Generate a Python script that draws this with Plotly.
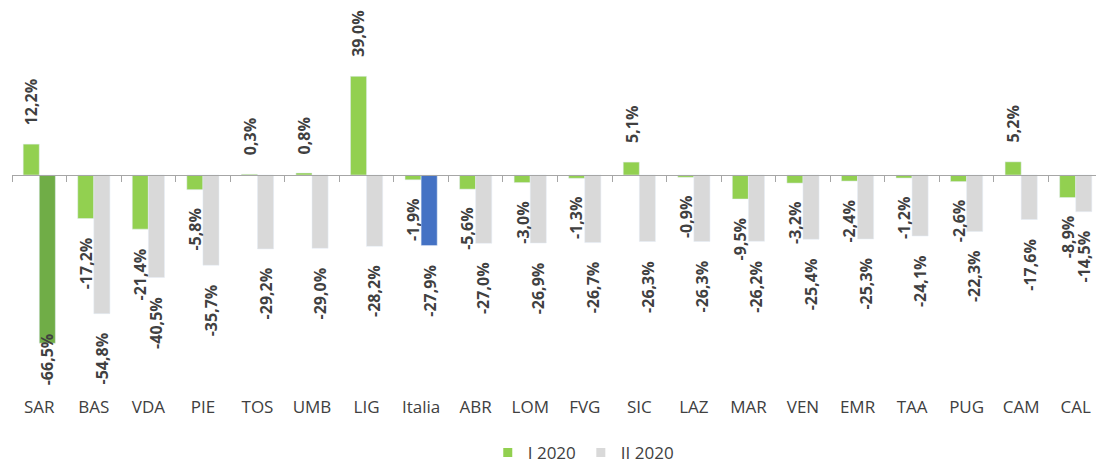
import plotly.graph_objects as go

# ---- data ----
categories = ["SAR", "BAS", "VDA", "PIE", "TOS", "UMB", "LIG", "Italia", "ABR", "LOM",
              "FVG", "SIC", "LAZ", "MAR", "VEN", "EMR", "TAA", "PUG", "CAM", "CAL"]
series1_name = "I 2020"
series2_name = "II 2020"
series1 = [12.2, -17.2, -21.4, -5.8, 0.3, 0.8, 39.0, -1.9, -5.6, -3.0,
           -1.3, 5.1, -0.9, -9.5, -3.2, -2.4, -1.2, -2.6, 5.2, -8.9]
series2 = [-66.5, -54.8, -40.5, -35.7, -29.2, -29.0, -28.2, -27.9, -27.0, -26.9,
           -26.7, -26.3, -26.3, -26.2, -25.4, -25.3, -24.1, -22.3, -17.6, -14.5]

# ---- styles ----
GREEN = "#92D050"
GRAY = "#D9D9D9"
DARK_GREEN = "#70AD47"
BLUE = "#4472C4"
TEXT = "#404040"
AXIS = "#A6A6A6"
FONT = "Open Sans"

W, H = 1096, 463
M_L, M_R, M_T, M_B = 12, 0, 0, 71
PPU = 2.53                      # pixels per percentage point
ZERO_PX = 175                   # pixel row of the zero line
plot_h = H - M_T - M_B
y_max = (ZERO_PX - M_T) / PPU
y_min = -(plot_h - (ZERO_PX - M_T)) / PPU
x_range = [-0.5, len(categories) - 0.5 - 7 / 54.6]

bargap = 0.41
bar_w = (1 - bargap) / 2
offsets = [-bar_w / 2, bar_w / 2]

colors2 = []
for c in categories:
    if c == "SAR":
        colors2.append(DARK_GREEN)
    elif c == "Italia":
        colors2.append(BLUE)
    else:
        colors2.append(GRAY)

fig = go.Figure()
fig.add_trace(go.Bar(x=categories, y=series1, name=series1_name, marker_color=GREEN,
                     showlegend=False, hoverinfo="x+y"))
fig.add_trace(go.Bar(x=categories, y=series2, name=series2_name, marker_color=colors2,
                     showlegend=False, hoverinfo="x+y"))
# legend swatches
for nm, col in [(series1_name, GREEN), (series2_name, GRAY)]:
    fig.add_trace(go.Scatter(x=[None], y=[None], mode="markers", name=nm,
                             marker=dict(symbol="square", size=9, color=col)))
# overlay axis for zero line with boundary ticks
fig.add_trace(go.Scatter(x=categories, y=[0] * len(categories), xaxis="x2", mode="markers",
                         marker=dict(opacity=0), showlegend=False, hoverinfo="skip"))

# data labels
GAP_PX = 17
LIMIT = -(387 - ZERO_PX) / PPU
annotations = []
for s_idx, vals in enumerate([series1, series2]):
    for i, v in enumerate(vals):
        txt = f"{v:.1f}".replace(".", ",") + "%"
        x = i + offsets[s_idx]
        lab_font = dict(family=FONT, size=16, color=TEXT, weight="bold")
        if v >= 0:
            annotations.append(dict(x=x, y=v, text=txt, textangle=-90, showarrow=False,
                                    yanchor="bottom", xanchor="center", yshift=GAP_PX,
                                    font=lab_font))
        else:
            label_len = len(txt) * 8.8 / PPU
            if v - GAP_PX / PPU - label_len < LIMIT:
                annotations.append(dict(x=x, y=LIMIT, text=txt, textangle=-90, showarrow=False,
                                        yanchor="bottom", xanchor="center", font=lab_font))
            else:
                annotations.append(dict(x=x, y=v, text=txt, textangle=-90, showarrow=False,
                                        yanchor="top", xanchor="center", yshift=-GAP_PX,
                                        font=lab_font))

zero_pos = (0 - y_min) / (y_max - y_min)

fig.update_layout(
    width=W, height=H,
    margin=dict(l=M_L, r=M_R, t=M_T, b=M_B, autoexpand=False),
    paper_bgcolor="white", plot_bgcolor="white",
    barmode="group", bargap=bargap, bargroupgap=0,
    font=dict(family=FONT, size=16, color=TEXT),
    xaxis=dict(type="category", categoryorder="array", categoryarray=categories,
               range=x_range, showline=False, ticks="", showgrid=False, zeroline=False,
               automargin=False, ticklabelstandoff=3,
               tickfont=dict(family=FONT, size=17, color=TEXT)),
    xaxis2=dict(type="category", categoryorder="array", categoryarray=categories,
                overlaying="x", anchor="free", position=zero_pos, range=x_range,
                showline=True, linecolor=AXIS, linewidth=1.3, ticks="outside",
                tickson="boundaries", ticklen=6, tickcolor=AXIS, tickwidth=1.3,
                showticklabels=False, showgrid=False, zeroline=False, automargin=False),
    yaxis=dict(range=[y_min, y_max], visible=False, showgrid=False, zeroline=False,
               automargin=False),
    legend=dict(orientation="h", x=0.527, xanchor="center", y=-(453 - (H - M_B)) / plot_h,
                yanchor="middle", font=dict(family=FONT, size=17, color=TEXT),
                itemwidth=30, tracegroupgap=0),
    annotations=annotations,
)

fig.write_html("out.html")
